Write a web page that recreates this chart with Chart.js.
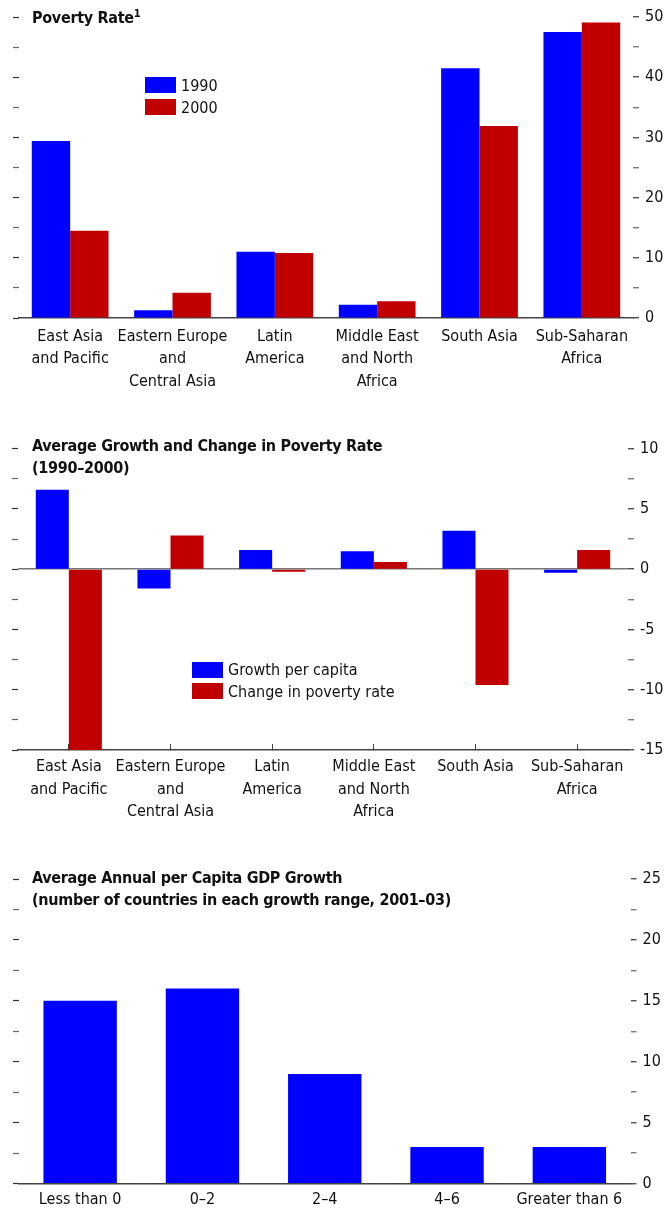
<!DOCTYPE html>
<html>
<head>
<meta charset="utf-8">
<script src="https://cdn.jsdelivr.net/npm/chart.js@4.4.1/dist/chart.umd.min.js"></script>
<style>
  body { margin: 0; background: #fff; width: 665px; height: 1212px; position: relative; overflow: hidden;
         font-family: 'DejaVu Sans Condensed', 'Liberation Sans Narrow', sans-serif; color: #111; }
  canvas { position: absolute; left: 0; }
  .title { position: absolute; left: 32px; font-weight: bold; font-size: 16px; line-height: 22px;
           letter-spacing: -0.3px; z-index: 2; white-space: nowrap; }
  .title sup { font-size: 11px; vertical-align: 6px; line-height: 0; }
  .legend { position: absolute; font-size: 16px; z-index: 2; white-space: nowrap; }
  .legend div { display: flex; align-items: center; height: 22px; }
  .legend .box { display: inline-block; width: 31px; height: 16px; margin-right: 5px; }
</style>
</head>
<body>
<canvas id="c1" width="665" height="400" style="top:0"></canvas>
<canvas id="c2" width="665" height="400" style="top:430px"></canvas>
<canvas id="c3" width="665" height="352" style="top:860px"></canvas>

<div class="title" style="top:7px">Poverty Rate<sup>1</sup></div>
<div class="legend" style="left:145px; top:74px">
  <div><span class="box" style="background:#0000ff"></span>1990</div>
  <div><span class="box" style="background:#c00000"></span>2000</div>
</div>

<div class="title" style="top:435px">Average Growth and Change in Poverty Rate<br>(1990–2000)</div>
<div class="legend" style="left:192px; top:659px">
  <div style="height:21.5px"><span class="box" style="background:#0000ff"></span>Growth per capita</div>
  <div style="height:21.5px"><span class="box" style="background:#c00000"></span>Change in poverty rate</div>
</div>

<div class="title" style="top:867px">Average Annual per Capita GDP Growth<br>(number of countries in each growth range, 2001–03)</div>

<script>
// data
const regions = [
  ["East Asia", "and Pacific"],
  ["Eastern Europe", "and", "Central Asia"],
  ["Latin", "America"],
  ["Middle East", "and North", "Africa"],
  "South Asia",
  ["Sub-Saharan", "Africa"]
];
const poverty1990 = [29.4, 1.3, 11.0, 2.2, 41.5, 47.5];
const poverty2000 = [14.5, 4.2, 10.8, 2.8, 31.9, 49.1];

const growthPerCapita = [6.6, -1.6, 1.6, 1.5, 3.2, -0.3];
const povertyChange = [-15.0, 2.8, -0.2, 0.6, -9.6, 1.6];

const growthRanges = ["Less than 0", "0–2", "2–4", "4–6", "Greater than 6"];
const countryCounts = [15, 16, 9, 3, 3];

const BLUE = "#0000ff";
const RED = "#c00000";

Chart.defaults.font.family = "'DejaVu Sans Condensed', 'Liberation Sans Narrow', sans-serif";
Chart.defaults.font.size = 16;
Chart.defaults.color = "#111";

const isMult = (v, step) => Math.abs(v % step) < 1e-9;

function makeChart(id, labels, datasets, o) {
  const tickColor = ctx => isMult(ctx.tick.value, o.labelStep) ? "#333" : "#666";
  return new Chart(document.getElementById(id), {
    type: "bar",
    data: { labels: labels, datasets: datasets },
    options: {
      responsive: false,
      animation: false,
      devicePixelRatio: 1,
      layout: { padding: { top: o.top, left: 0, right: 0, bottom: 0 } },
      plugins: { legend: { display: false }, tooltip: { enabled: false } },
      datasets: { bar: { barPercentage: 1, categoryPercentage: o.catPct, borderWidth: 0 } },
      scales: {
        x: {
          offset: true,
          grid: {
            display: o.xTicks, offset: false, drawOnChartArea: false,
            drawTicks: o.xTicks, tickLength: -6, tickColor: "#444", tickWidth: 1
          },
          border: { display: true, color: "#444", width: 1.5 },
          ticks: { autoSkip: false, maxRotation: 0, padding: o.xPad, font: { size: 16, lineHeight: 1.4 } },
          afterFit: s => { s.height = o.xh; }
        },
        yl: {
          position: "left", min: o.min, max: o.max,
          ticks: { stepSize: o.step, display: false },
          grid: { drawOnChartArea: false, tickLength: 6, tickColor: tickColor, tickWidth: 1.2 },
          border: { display: false },
          afterFit: s => { s.width = o.left; }
        },
        y: {
          position: "right", min: o.min, max: o.max,
          ticks: {
            stepSize: o.step, autoSkip: false, padding: o.rPad,
            callback: v => isMult(v, o.labelStep) ? String(v) : ""
          },
          grid: {
            drawOnChartArea: !!o.zeroLine,
            color: ctx => ctx.tick.value === 0 ? "#777" : "rgba(0,0,0,0)",
            lineWidth: 1.5, tickLength: 6, tickColor: tickColor, tickWidth: 1.2
          },
          border: { display: false },
          afterFit: s => { s.width = o.right; }
        }
      }
    }
  });
}

makeChart("c1", regions, [
  { label: "1990", data: poverty1990, backgroundColor: BLUE },
  { label: "2000", data: poverty2000, backgroundColor: RED }
], { min: 0, max: 50, step: 5, labelStep: 10, catPct: 0.75, top: 17, xh: 82, left: 19, right: 32, xPad: 7.5, rPad: 6, xTicks: false });

makeChart("c2", regions, [
  { label: "Growth per capita", data: growthPerCapita, backgroundColor: BLUE },
  { label: "Change in poverty rate", data: povertyChange, backgroundColor: RED }
], { min: -15, max: 10, step: 2.5, labelStep: 5, catPct: 0.65, top: 18.7, xh: 80, left: 18, right: 37, xPad: 12, rPad: 6, xTicks: true, zeroLine: true });

makeChart("c3", growthRanges, [
  { label: "Countries", data: countryCounts, backgroundColor: BLUE }
], { min: 0, max: 25, step: 2.5, labelStep: 5, catPct: 0.6, top: 19, xh: 28.5, left: 19, right: 34.5, xPad: 5, rPad: 6, xTicks: false });
</script>
</body>
</html>
